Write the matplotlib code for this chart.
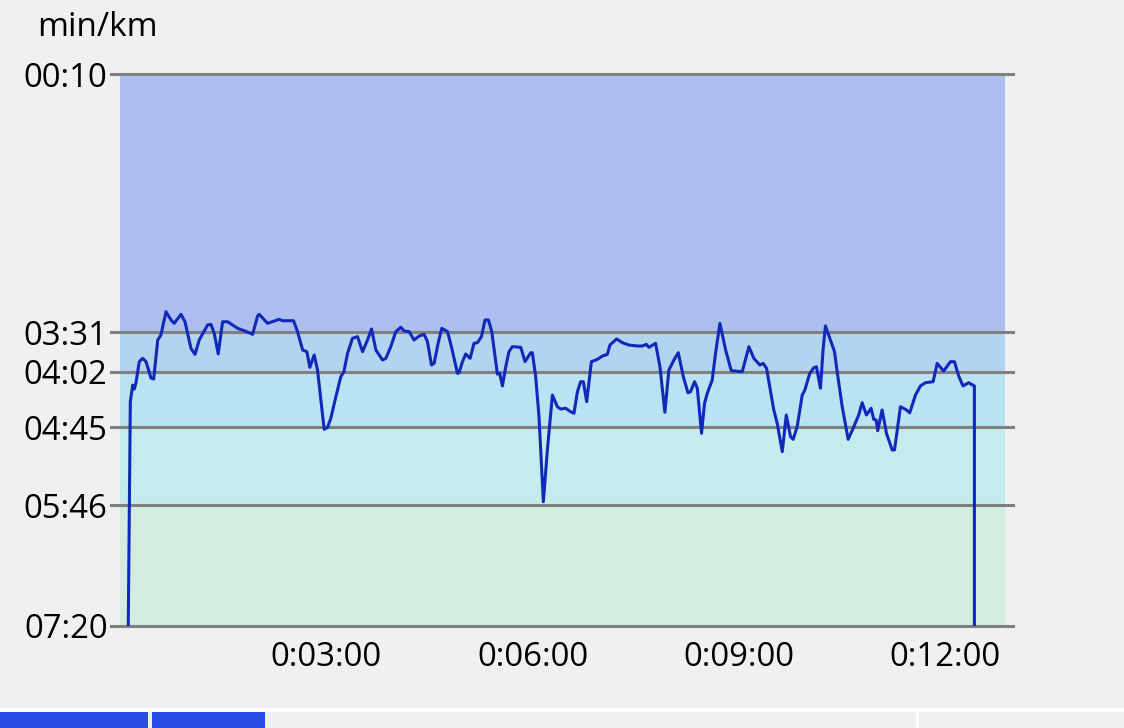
import matplotlib
matplotlib.use("Agg")
import matplotlib.pyplot as plt
from matplotlib.patches import Rectangle

plt.rcParams['font.family'] = ['Open Sans', 'DejaVu Sans']

# elapsed time (s) and pace (s/km)
time_s = [7.2, 9.0, 11.1, 12.5, 13.9, 16.8, 19.8, 22.7, 27.0, 29.4, 32.9, 35.7, 40.1, 44.5, 47.3,
          53.2, 56.7, 61.9, 65.4, 69.1, 76.4, 79.3, 82.2, 85.7, 89.5, 93.9, 102.6, 108.4, 115.7,
          120.0, 121.4, 128.7, 138.9, 141.8, 151.4, 154.9, 159.3, 163.0, 165.6, 169.4, 172.3,
          178.1, 181.1, 183.9, 188.3, 192.6, 195.3, 198.5, 202.8, 207.2, 211.6, 215.9, 219.4,
          223.2, 229.0, 231.9, 236.2, 240.6, 244.9, 247.8, 252.2, 256.5, 260.9, 265.3, 268.2,
          271.7, 274.0, 277.5, 280.7, 285.7, 289.1, 294.4, 295.8, 298.7, 301.6, 305.4, 308.8,
          311.8, 315.3, 318.4, 321.4, 324.3, 329.2, 331.2, 333.6, 336.5, 339.3, 342.3, 349.6,
          353.3, 358.3, 359.7, 362.6, 365.5, 369.3, 372.8, 377.2, 381.5, 384.4, 388.8, 393.1,
          396.0, 399.0, 401.8, 404.2, 407.1, 411.2, 416.4, 420.8, 425.1, 427.4, 433.2, 438.2,
          443.9, 451.3, 455.6, 459.1, 461.4, 467.2, 471.0, 475.3, 478.8, 483.2, 487.0, 491.4,
          495.4, 497.7, 501.2, 503.6, 507.3, 509.9, 512.3, 516.6, 519.5, 523.3, 528.3, 533.2,
          542.8, 548.6, 552.9, 558.1, 561.1, 564.0, 570.3, 573.3, 577.7, 581.2, 584.9, 587.2,
          590.7, 595.1, 597.4, 601.7, 605.2, 607.5, 611.0, 613.4, 615.4, 623.3, 625.6, 630.0,
          635.2, 640.1, 644.4, 647.4, 651.1, 655.2, 657.5, 659.6, 661.0, 664.8, 668.6, 673.6,
          675.6, 680.8, 685.2, 688.9, 693.9, 698.2, 702.6, 709.3, 712.8, 718.5, 724.4, 727.9,
          731.6, 735.4, 740.3, 745.3, 745.3]
pace_s = [440, 265.3, 252.3, 255.4, 250.7, 234.1, 231.5, 234.1, 246.8, 247.6, 217.2, 213.3, 195.2,
          201.6, 204.2, 197.2, 203.0, 223.7, 228.4, 217.2, 205.5, 205.0, 212.0, 228.1, 203.0,
          203.0, 208.1, 210.0, 212.8, 198.5, 197.2, 204.2, 201.1, 202.2, 202.2, 210.8, 225.0,
          226.3, 238.5, 228.9, 240.6, 286.8, 285.2, 278.2, 261.4, 245.8, 241.9, 227.6, 215.9,
          214.6, 226.3, 217.2, 208.6, 225.0, 232.8, 231.5, 222.4, 210.7, 207.3, 210.2, 210.7,
          217.2, 214.1, 212.8, 218.5, 236.7, 235.4, 219.8, 208.1, 210.7, 222.4, 243.2, 242.7,
          234.1, 228.1, 231.5, 219.8, 219.3, 214.6, 201.6, 201.6, 210.7, 243.7, 243.2, 253.0,
          238.0, 226.3, 222.4, 222.9, 234.1, 227.1, 227.1, 245.8, 277.0, 343.2, 302.9, 260.1,
          269.2, 271.0, 270.4, 273.1, 274.3, 257.5, 249.7, 249.7, 265.3, 234.1, 232.3, 229.7,
          228.4, 221.1, 216.4, 219.3, 221.1, 221.9, 221.9, 220.6, 222.9, 219.8, 238.0, 273.5,
          240.6, 232.8, 227.1, 245.8, 258.3, 257.5, 249.7, 254.8, 289.9, 266.5, 258.7, 248.4,
          227.6, 204.2, 225.0, 241.1, 241.9, 222.4, 231.5, 236.7, 235.4, 239.3, 271.7, 282.1,
          304.2, 275.6, 292.5, 294.6, 284.8, 260.1, 256.2, 243.2, 238.8, 238.0, 254.8, 223.7,
          206.3, 226.3, 241.9, 269.2, 294.6, 284.8, 275.6, 266.1, 275.6, 270.4, 279.0, 279.5,
          287.9, 271.7, 289.9, 302.9, 302.9, 269.2, 271.2, 273.9, 260.1, 253.0, 250.5, 249.7,
          235.4, 241.4, 234.1, 234.1, 245.3, 253.0, 250.5, 253.0, 440]

# zone boundaries (s/km) and fill colours
zone_edges = [10, 211, 242, 285, 346, 440]
zone_colors = ['#adbfee', '#b3d4ef', '#b8e3f2', '#c5ecec', '#d2ece0']
x_ticks = [180, 360, 540, 720]
x_max = 772


def mmss(s):
    return "%02d:%02d" % (s // 60, s % 60)


def hmmss(s):
    return "%d:%02d:%02d" % (s // 3600, (s % 3600) // 60, s % 60)


fig = plt.figure(figsize=(11.24, 7.28), dpi=100, facecolor='#f0f0f0')
ax = fig.add_axes([120 / 1124, 102 / 728, 885 / 1124, 552 / 728])
ax.set_facecolor('#f0f0f0')

for i in range(len(zone_colors)):
    ax.axhspan(zone_edges[i], zone_edges[i + 1], color=zone_colors[i], lw=0, zorder=0)
for e in zone_edges:
    ax.axhline(e, xmin=-0.0102, xmax=1.009, color='#808080', lw=2.2, clip_on=False, zorder=1)

ax.plot(time_s, pace_s, color='#1129b8', lw=2.2, zorder=3, solid_joinstyle='round')

ax.set_xlim(0, x_max)
ax.set_ylim(440, 10)
ax.set_yticks(zone_edges)
ax.set_yticklabels([mmss(e) for e in zone_edges])
ax.set_xticks(x_ticks)
ax.set_xticklabels([hmmss(t) for t in x_ticks])
ax.tick_params(length=0, labelsize=23.7, colors='black')
ax.tick_params(axis='y', pad=9)
ax.tick_params(axis='x', pad=11)
for s in ax.spines.values():
    s.set_visible(False)

fig.text(37 / 1124, 1 - 36 / 728, 'min/km', fontsize=24, va='baseline', ha='left')

# bottom tab strip
fig.patches.append(Rectangle((0, 0), 1, 20 / 728, transform=fig.transFigure,
                             facecolor='white', edgecolor='none'))
fig.patches.append(Rectangle((0, 0), 1, 16 / 728, transform=fig.transFigure,
                             facecolor='#f0f0f0', edgecolor='none'))
fig.patches.append(Rectangle((0, 0), 148 / 1124, 16 / 728, transform=fig.transFigure,
                             facecolor='#2a4de6', edgecolor='none'))
fig.patches.append(Rectangle((152 / 1124, 0), 113 / 1124, 16 / 728, transform=fig.transFigure,
                             facecolor='#2a4de6', edgecolor='none'))
fig.patches.append(Rectangle((916 / 1124, 0), 3 / 1124, 16 / 728, transform=fig.transFigure,
                             facecolor='white', edgecolor='none'))

fig.savefig('out.png', dpi=100, facecolor=fig.get_facecolor())
